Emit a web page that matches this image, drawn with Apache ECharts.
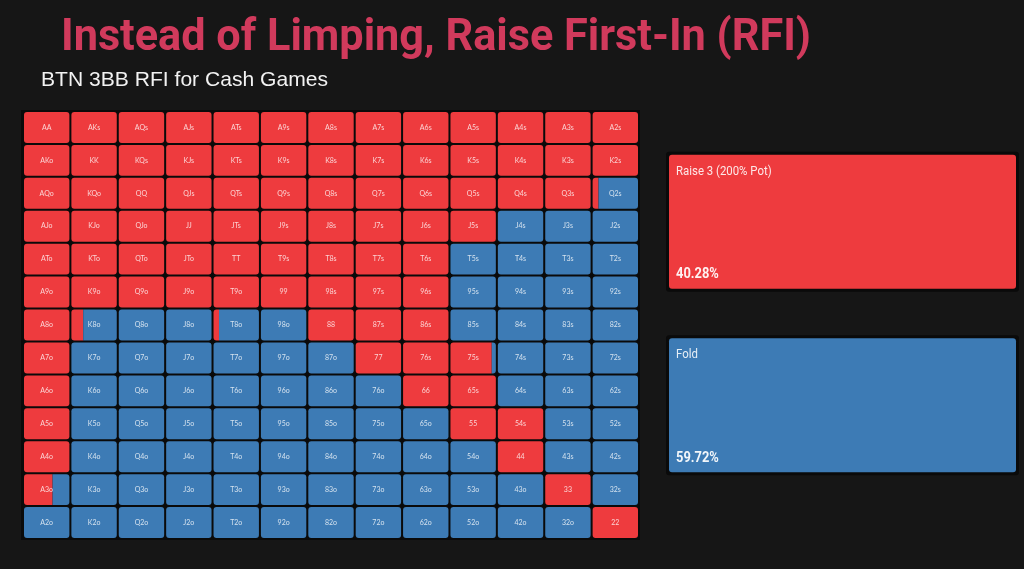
<!DOCTYPE html>
<html>
<head>
<meta charset="utf-8">
<title>BTN 3BB RFI for Cash Games</title>
<script src="https://cdn.jsdelivr.net/npm/echarts@6/dist/echarts.min.js"></script>
<style>
  html, body { margin: 0; padding: 0; background: #161616; }
  #chart { width: 1024px; height: 569px; }
</style>
</head>
<body>
<div id="chart"></div>
<script>
const ranks = ['A', 'K', 'Q', 'J', 'T', '9', '8', '7', '6', '5', '4', '3', '2'];

// raise frequency for each cell (row = first rank, upper right = suited, lower left = offsuit)
const raiseRow0 = [1, 1, 1, 1, 1, 1, 1, 1, 1, 1, 1, 1, 1];
const raiseRow1 = [1, 1, 1, 1, 1, 1, 1, 1, 1, 1, 1, 1, 1];
const raiseRow2 = [1, 1, 1, 1, 1, 1, 1, 1, 1, 1, 1, 1, 0.13];
const raiseRow3 = [1, 1, 1, 1, 1, 1, 1, 1, 1, 1, 0, 0, 0];
const raiseRow4 = [1, 1, 1, 1, 1, 1, 1, 1, 1, 0, 0, 0, 0];
const raiseRow5 = [1, 1, 1, 1, 1, 1, 1, 1, 1, 0, 0, 0, 0];
const raiseRow6 = [1, 0.26, 0, 0, 0.12, 0, 1, 1, 1, 0, 0, 0, 0];
const raiseRow7 = [1, 0, 0, 0, 0, 0, 0, 1, 1, 0.91, 0, 0, 0];
const raiseRow8 = [1, 0, 0, 0, 0, 0, 0, 0, 1, 1, 0, 0, 0];
const raiseRow9 = [1, 0, 0, 0, 0, 0, 0, 0, 0, 1, 1, 0, 0];
const raiseRow10 = [1, 0, 0, 0, 0, 0, 0, 0, 0, 0, 1, 0, 0];
const raiseRow11 = [0.63, 0, 0, 0, 0, 0, 0, 0, 0, 0, 0, 1, 0];
const raiseRow12 = [0, 0, 0, 0, 0, 0, 0, 0, 0, 0, 0, 0, 1];

const actionNames = ['Raise 3 (200% Pot)', 'Fold'];
const actionShares = [40.28, 59.72];

const RED = '#EE3B3E';
const BLUE = '#3D7BB5';

const raiseRows = [raiseRow0, raiseRow1, raiseRow2, raiseRow3, raiseRow4, raiseRow5, raiseRow6,
  raiseRow7, raiseRow8, raiseRow9, raiseRow10, raiseRow11, raiseRow12];

function handLabel(row, col) {
  if (row === col) return ranks[row] + ranks[col];
  if (col > row) return ranks[row] + ranks[col] + 's';
  return ranks[col] + ranks[row] + 'o';
}

const cellData = [];
raiseRows.forEach((row, r) => {
  row.forEach((v, c) => cellData.push([c, r, v, handLabel(r, c)]));
});

const actionData = actionNames.map((name, i) => [0, i, actionShares[i], name]);

function fitScale(text, font, targetWidth) {
  const ctx = document.createElement('canvas').getContext('2d');
  ctx.font = font;
  return targetWidth / ctx.measureText(text).width;
}

function renderCell(params, api) {
  const col = api.value(0);
  const row = api.value(1);
  const raise = api.value(2);
  const center = api.coord([col, row]);
  const size = api.size([1, 1]);
  const w = size[0] - 2;
  const h = size[1] - 2;
  const x = center[0] - w / 2;
  const y = center[1] - h / 2;
  const children = [];
  if (raise >= 1 || raise <= 0) {
    children.push({
      type: 'rect',
      shape: { x, y, width: w, height: h, r: 3 },
      style: { fill: raise >= 1 ? RED : BLUE },
    });
  } else {
    const rw = w * raise;
    children.push({
      type: 'rect',
      shape: { x, y, width: rw, height: h, r: [3, 0, 0, 3] },
      style: { fill: RED },
    });
    children.push({
      type: 'rect',
      shape: { x: x + rw, y, width: w - rw, height: h, r: [0, 3, 3, 0] },
      style: { fill: BLUE },
    });
  }
  children.push({
    type: 'text',
    style: {
      text: cellData[params.dataIndex][3],
      x: center[0],
      y: center[1],
      align: 'center',
      verticalAlign: 'middle',
      font: '7px Lato',
      fill: 'rgba(255,255,255,0.78)',
    },
  });
  return { type: 'group', children };
}

function renderAction(params, api) {
  const idx = api.value(1);
  const cy = api.coord([0, idx])[1];
  const cs = params.coordSys;
  const h = 134;
  const x = cs.x;
  const y = cy - h / 2;
  return {
    type: 'group',
    children: [
      {
        type: 'rect',
        shape: { x: x - 3, y: y - 3, width: cs.width + 6, height: h + 6, r: 3 },
        style: { fill: '#0a0a0a' },
      },
      {
        type: 'rect',
        shape: { x, y, width: cs.width, height: h, r: 3 },
        style: { fill: idx === 0 ? RED : BLUE },
      },
      {
        type: 'text',
        scaleX: 0.95,
        x: x + 7,
        y: y + 17,
        style: {
          text: actionNames[idx],
          verticalAlign: 'middle',
          font: '12px Roboto',
          fill: 'rgba(255,255,255,0.88)',
        },
      },
      {
        type: 'text',
        scaleX: 0.92,
        x: x + 7,
        y: y + h - 14,
        style: {
          text: actionShares[idx].toFixed(2) + '%',
          verticalAlign: 'middle',
          font: 'bold 14px Roboto',
          fill: 'rgba(255,255,255,0.93)',
        },
      },
    ],
  };
}

const titleText = 'Instead of Limping, Raise First-In (RFI)';
const titleFont = 'bold 44px Roboto';
const subText = 'BTN 3BB RFI for Cash Games';
const subFont = '21px "Liberation Sans"';

const chart = echarts.init(document.getElementById('chart'));

chart.setOption({
  backgroundColor: '#161616',
  animation: false,
  graphic: [
    {
      type: 'text',
      x: 61,
      y: 39,
      scaleX: fitScale(titleText, titleFont, 750),
      style: { text: titleText, font: titleFont, fill: '#D13A5C', verticalAlign: 'middle' },
    },
    {
      type: 'text',
      x: 41,
      y: 80,
      scaleX: fitScale(subText, subFont, 287),
      style: { text: subText, font: subFont, fill: '#f2f2f2', verticalAlign: 'middle' },
    },
    {
      type: 'rect',
      z: -1,
      shape: { x: 21, y: 110, width: 619, height: 430 },
      style: { fill: '#0a0a0a' },
    },
  ],
  grid: [
    { left: 23, top: 111, width: 616, height: 428 },
    { left: 669, top: 130, width: 347, height: 367 },
  ],
  xAxis: [
    { type: 'category', data: ranks, gridIndex: 0, show: false },
    { type: 'value', gridIndex: 1, show: false, min: 0, max: 1 },
  ],
  yAxis: [
    { type: 'category', data: ranks, gridIndex: 0, show: false, inverse: true },
    { type: 'category', data: actionNames, gridIndex: 1, show: false, inverse: true },
  ],
  series: [
    {
      type: 'custom',
      xAxisIndex: 0,
      yAxisIndex: 0,
      renderItem: renderCell,
      data: cellData,
    },
    {
      type: 'custom',
      xAxisIndex: 1,
      yAxisIndex: 1,
      renderItem: renderAction,
      data: actionData,
    },
  ],
});
</script>
</body>
</html>
